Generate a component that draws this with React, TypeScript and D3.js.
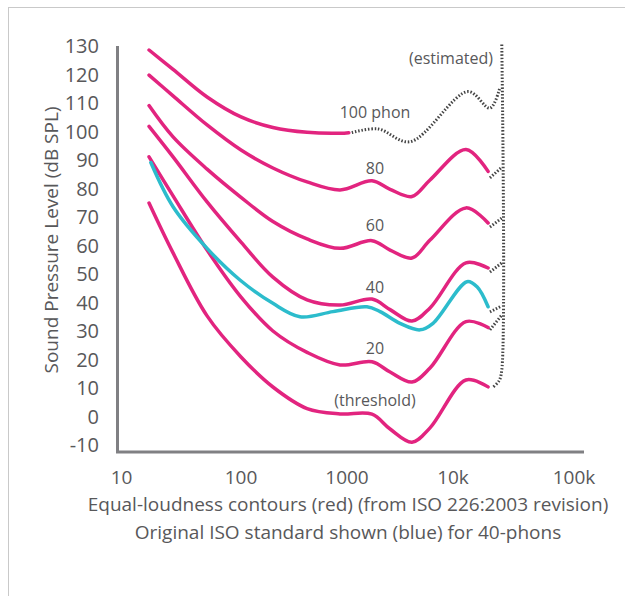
import React from 'react';
import * as d3 from 'd3';

// axis ticks
const freqTicks = [10, 100, 1000, 10000, 100000];
const freqTickLabels = ['10', '100', '1000', '10k', '100k'];
const levelTicks = [130, 120, 110, 100, 90, 80, 70, 60, 50, 40, 30, 20, 10, 0, -10];

// ISO 226:2003 contours (dB SPL) on a shared frequency grid (Hz)
const contourFreqs = [17, 27, 52, 100, 200, 420, 860, 1720, 2550, 4100, 6070, 12800, 19500];
const phon80 = [119.8, 112.5, 102.3, 93.5, 87.2, 82.3, 79.5, 82.7, 79.7, 77.2, 83.0, 93.7, 86.0];
const phon60 = [109.1, 98.1, 86.8, 76.9, 68.4, 62.3, 59.0, 61.7, 58.4, 55.6, 61.9, 73.2, 67.9];
const phon40 = [101.8, 91.1, 75.3, 61.2, 48.9, 40.9, 39.1, 41.2, 37.5, 33.5, 38.1, 53.9, 52.1];
const phon20 = [91.1, 77.4, 58.4, 41.9, 30.0, 22.5, 18.1, 19.2, 15.6, 12.1, 17.0, 33.3, 31.2];
const threshold = [74.9, 57.4, 35.3, 20.9, 10.35, 2.8, 0.9, 0.8, -4.4, -9.0, -4.0, 12.8, 10.4];

// 100 phon only measured up to 1 kHz
const phon100Freqs = [17, 27, 52, 100, 200, 420, 860, 1040];
const phon100 = [128.6, 121.8, 112.1, 105.1, 101.4, 99.7, 99.4, 99.6];
const phon100EstFreqs = [1110, 1960, 3930, 13300, 20200, 24400];
const phon100Est = [99.6, 100.9, 96.4, 114.0, 108.2, 115.3];

// original ISO standard, 40 phon (blue)
const isoOldFreqs = [17.6, 27, 52, 98, 200, 360, 738, 1540, 2050, 3160, 4880, 6480, 13050, 15800, 19500];
const isoOld40 = [89.1, 73.6, 59.0, 47.9, 39.7, 35.0, 36.8, 38.5, 36.8, 32.7, 30.4, 32.7, 47.3, 45.5, 38.5];

// estimated boundary at the top of the hearing range
const edgeFreqs = [25300, 25300, 24000, 21500];
const edgeLevels = [130.5, 16.3, 12.5, 10.35];
const tailFreqs = [20200, 25300];
const tail80 = [83.7, 87.5];
const tail60 = [66.5, 69.6];
const tail40 = [50.7, 53.9];
const tailOld40 = [36.7, 38.8];
const tail20 = [30.4, 35.6];

// curve labels
const labelTexts = ['100 phon', '80', '60', '40', '20', '(threshold)', '(estimated)'];
const labelFreqs = [1837, 1837, 1837, 1837, 1837, 1837, 9575];
const labelLevels = [106.8, 87.1, 67.2, 45.3, 23.9, 5.8, 125.8];

const PINK = '#e2247f';
const CYAN = '#2cbccc';
const TEXT = '#58585a';
const AXIS = '#808083';
const DOTS = '#454545';
const FONT = '"Open Sans", sans-serif';

type Pt = [number, number];
const zip = (f: number[], v: number[]): Pt[] => f.map((fq, i) => [fq, v[i]] as Pt);

export default function App() {
  const x = d3.scaleLog().domain(freqTicks).range([121.5, 241, 347, 453, 574]);
  const y = d3.scaleLinear().domain([-10, 130]).range([445, 46]);

  const line = d3.line<Pt>()
    .x(d => x(d[0]))
    .y(d => y(d[1]))
    .curve(d3.curveCatmullRom.alpha(0.5));

  const redCurves = [
    zip(phon100Freqs, phon100),
    zip(contourFreqs, phon80),
    zip(contourFreqs, phon60),
    zip(contourFreqs, phon40),
    zip(contourFreqs, phon20),
    zip(contourFreqs, threshold),
  ];
  const dotted = [
    zip(phon100EstFreqs, phon100Est),
    zip(edgeFreqs, edgeLevels),
    zip(tailFreqs, tail80),
    zip(tailFreqs, tail60),
    zip(tailFreqs, tail40),
    zip(tailFreqs, tailOld40),
    zip(tailFreqs, tail20),
  ];

  const left = 117.5, bottom = 452, top = 46, right = 584;

  return (
    <svg width={625} height={596} style={{ position: 'absolute', left: 0, top: 0 }}
      fontFamily={FONT}>
      <rect x={8.5} y={7.5} width={700} height={700} fill="none" stroke="#c9c9c9" strokeWidth={1} />

      {/* axes */}
      <path d={`M${left},${top}V${bottom}H${right}`} fill="none" stroke={AXIS} strokeWidth={3} />
      {levelTicks.map(v => (
        <text key={v} x={99} y={y(v)} dy="0.36em" textAnchor="end" fontSize={20} fill={TEXT}>{v}</text>
      ))}
      {freqTicks.map((f, i) => (
        <text key={f} x={x(f)} y={477} dy="0.36em" textAnchor="middle" fontSize={19} fill={TEXT}>
          {freqTickLabels[i]}
        </text>
      ))}
      <text transform="translate(51,240) rotate(-90)" dy="0.36em" textAnchor="middle" fontSize={19} fill={TEXT}>
        Sound Pressure Level (dB SPL)
      </text>
      <text x={348} y={511} textAnchor="middle" fontSize={19} fill={TEXT}>
        Equal-loudness contours (red) (from ISO 226:2003 revision)
      </text>
      <text x={348} y={539} textAnchor="middle" fontSize={19} fill={TEXT}>
        Original ISO standard shown (blue) for 40-phons
      </text>

      {/* estimated parts */}
      {dotted.map((d, i) => (
        <path key={i} d={line(d) ?? ''} fill="none" stroke={DOTS} strokeWidth={3} strokeDasharray="1.5 1.8" />
      ))}

      {/* contours */}
      {redCurves.map((d, i) => (
        <path key={i} d={line(d) ?? ''} fill="none" stroke={PINK} strokeWidth={3.5} strokeLinecap="round" />
      ))}
      <path d={line(zip(isoOldFreqs, isoOld40)) ?? ''} fill="none" stroke={CYAN} strokeWidth={3.5} strokeLinecap="round" />

      {labelTexts.map((t, i) => (
        <text key={t} x={x(labelFreqs[i])} y={y(labelLevels[i])} dy="0.36em" textAnchor="middle"
          fontSize={16} fill={TEXT}>{t}</text>
      ))}
    </svg>
  );
}
